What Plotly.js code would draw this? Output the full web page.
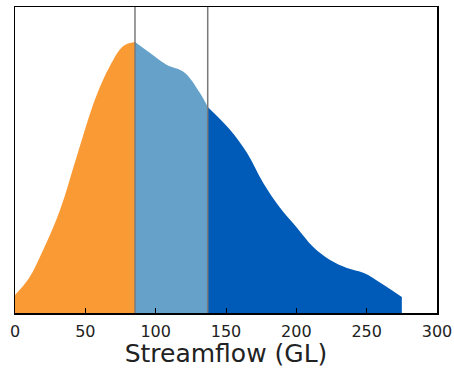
<!DOCTYPE html>
<html>
<head>
<meta charset="utf-8">
<script src="https://cdn.plot.ly/plotly-3.0.1.min.js"></script>
<style>html,body{margin:0;padding:0;background:#fff;}#chart{width:454px;height:368px;}</style>
</head>
<body>
<div id="chart"></div>
<script>
// Density curve of streamflow (arbitrary density units)
var flow = [0, 10, 20, 32, 44, 57, 67.5, 77, 85.3, 96, 108, 120, 131.5, 137, 153, 165, 176.5, 188, 200, 212, 224, 236, 248, 260, 275];
var density = [18, 35, 63, 103, 157, 214, 247, 267, 271, 260, 248, 241, 220, 206, 183, 160, 130, 106, 86, 66, 53, 45, 40, 30, 16];
var cuts = [85.3, 137];
var segColors = ['#F99A35', '#65A1C9', '#005BB8'];
var tickVals = [0, 50, 100, 150, 200, 250, 300];

var bounds = [-Infinity, cuts[0], cuts[1], Infinity];
var traces = [];
for (var s = 0; s < 3; s++) {
  var xs = [], ys = [];
  for (var i = 0; i < flow.length; i++) {
    if (flow[i] >= bounds[s] && flow[i] <= bounds[s + 1]) { xs.push(flow[i]); ys.push(density[i]); }
  }
  traces.push({
    x: xs, y: ys, type: 'scatter', mode: 'lines',
    line: {width: 0, shape: 'spline', smoothing: 1, color: segColors[s]},
    fill: 'tozeroy', fillcolor: segColors[s], hoverinfo: 'skip', showlegend: false
  });
}

var shapes = cuts.map(function (c) {
  return {type: 'line', xref: 'x', yref: 'paper', x0: c, x1: c, y0: 0, y1: 1,
          line: {color: '#7a7a7a', width: 1.5}};
});

var layout = {
  width: 454, height: 368,
  margin: {l: 15, r: 17, t: 7, b: 55},
  paper_bgcolor: '#fff', plot_bgcolor: '#fff',
  font: {family: 'DejaVu Sans', color: '#222'},
  xaxis: {
    range: [0, 300], tickvals: tickVals, ticktext: tickVals.map(String),
    ticks: 'inside', ticklen: 5, tickwidth: 1, tickcolor: '#000',
    ticklabelstandoff: 3,
    showline: true, linecolor: '#000', linewidth: 1.5, mirror: true,
    showgrid: false, zeroline: false,
    tickfont: {size: 16, color: '#222'},
    title: {text: 'Streamflow (GL)', font: {size: 25, color: '#222'}, standoff: 6}
  },
  yaxis: {
    range: [0, 306], showticklabels: false, ticks: '',
    showline: true, linecolor: '#000', linewidth: 1.5, mirror: true,
    showgrid: false, zeroline: false
  },
  shapes: shapes
};

Plotly.newPlot('chart', traces, layout, {displayModeBar: false, staticPlot: true});
</script>
</body>
</html>
